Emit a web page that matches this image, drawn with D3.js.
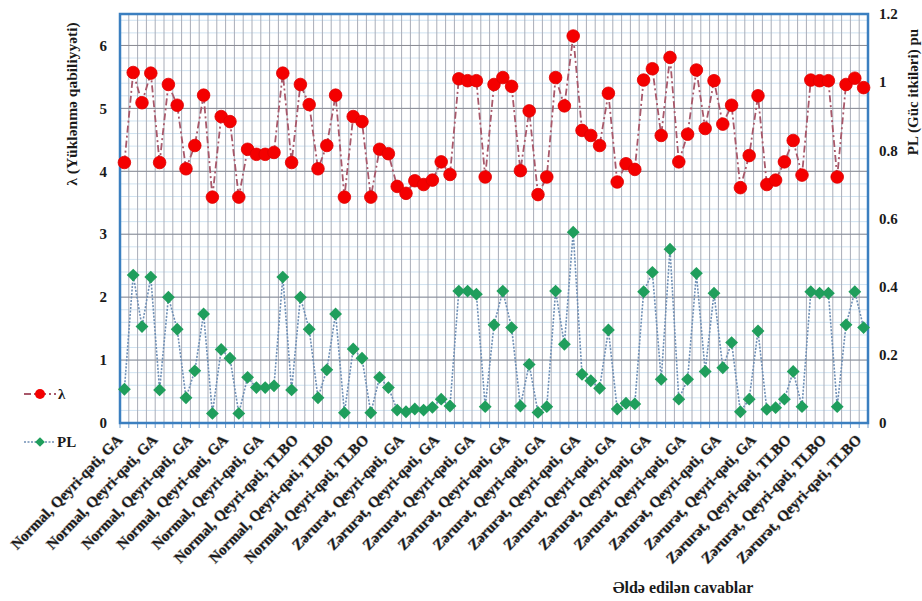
<!DOCTYPE html>
<html>
<head>
<meta charset="utf-8">
<script src="https://cdn.jsdelivr.net/npm/d3@7"></script>
<style>
  body { margin: 0; background: #fff; }
  text { font-family: "Liberation Serif", "Times New Roman", serif; font-weight: bold; fill: #1a1a1a; }
</style>
</head>
<body>
<div id="chart"></div>
<script>
// category groups, 85 answers in order
var groupNames = ['Normal, Qeyri-qəti, GA', 'Normal, Qeyri-qəti, TLBO', 'Zərurət, Qeyri-qəti, GA', 'Zərurət, Qeyri-qəti, TLBO'];
var groupCounts = [20, 12, 41, 12];

// λ (left axis)
var lambdaValues = [
  4.14, 5.57, 5.09, 5.56, 4.14, 5.38, 5.05, 4.04, 4.41, 5.21,
  3.59, 4.87, 4.79, 3.59, 4.35, 4.27, 4.27, 4.30, 5.56, 4.14,
  5.38, 5.06, 4.04, 4.41, 5.21, 3.59, 4.87, 4.79, 3.59, 4.35,
  4.28, 3.76, 3.65, 3.85, 3.79, 3.86, 4.15, 3.95, 5.47, 5.44,
  5.44, 3.91, 5.38, 5.49, 5.35, 4.01, 4.96, 3.63, 3.91, 5.49,
  5.04, 6.15, 4.65, 4.57, 4.41, 5.24, 3.83, 4.12, 4.03, 5.45,
  5.63, 4.57, 5.81, 4.15, 4.59, 5.61, 4.68, 5.44, 4.75, 5.05,
  3.74, 4.25, 5.20, 3.79, 3.86, 4.15, 4.49, 3.94, 5.45, 5.44,
  5.44, 3.91, 5.38, 5.48, 5.33
];

// PL (right axis, pu)
var plValues = [
  0.099, 0.434, 0.283, 0.428, 0.097, 0.369, 0.275, 0.074, 0.153, 0.320,
  0.028, 0.216, 0.190, 0.028, 0.134, 0.104, 0.104, 0.109, 0.428, 0.097,
  0.369, 0.275, 0.074, 0.156, 0.320, 0.030, 0.217, 0.190, 0.030, 0.134,
  0.104, 0.038, 0.033, 0.041, 0.038, 0.046, 0.070, 0.050, 0.387, 0.387,
  0.378, 0.048, 0.288, 0.387, 0.280, 0.050, 0.172, 0.031, 0.048, 0.387,
  0.231, 0.560, 0.143, 0.124, 0.102, 0.273, 0.041, 0.058, 0.056, 0.385,
  0.442, 0.128, 0.510, 0.070, 0.128, 0.439, 0.151, 0.381, 0.162, 0.236,
  0.033, 0.070, 0.270, 0.040, 0.045, 0.070, 0.151, 0.048, 0.385, 0.381,
  0.381, 0.048, 0.288, 0.385, 0.280
];

var leftTicks = [0, 1, 2, 3, 4, 5, 6];
var rightTicks = [0, 0.2, 0.4, 0.6, 0.8, 1, 1.2];

var categories = [];
groupNames.forEach(function(name, g) {
  for (var k = 0; k < groupCounts[g]; k++) categories.push(name);
});
var ids = d3.range(categories.length);

var W = 922, H = 601;
var plot = { left: 120, top: 14, right: 868, bottom: 423 };

var svg = d3.select('#chart').append('svg')
  .attr('width', W).attr('height', H);

var x = d3.scaleBand().domain(ids).range([plot.left, plot.right]);
var yL = d3.scaleLinear().domain([0, 6.5]).range([plot.bottom, plot.top]);
var yR = d3.scaleLinear().domain([0, 1.2]).range([plot.bottom, plot.top]);
var cx = function(i) { return x(i) + x.bandwidth() / 2; };

// gridlines
var grid = svg.append('g');
grid.selectAll('.hmin').data(d3.range(0, 6.5, 0.2))
  .enter().append('line')
  .attr('x1', plot.left).attr('x2', plot.right)
  .attr('y1', function(d) { return yL(d); }).attr('y2', function(d) { return yL(d); })
  .attr('stroke', '#cfe2f1').attr('stroke-width', 1);
grid.selectAll('.v').data(ids.slice(1))
  .enter().append('line')
  .attr('x1', function(i) { return x(i); }).attr('x2', function(i) { return x(i); })
  .attr('y1', plot.top).attr('y2', plot.bottom)
  .attr('stroke', '#a9adb8').attr('stroke-width', 1);
grid.selectAll('.hmaj').data(leftTicks.slice(1))
  .enter().append('line')
  .attr('x1', plot.left).attr('x2', plot.right)
  .attr('y1', function(d) { return yL(d); }).attr('y2', function(d) { return yL(d); })
  .attr('stroke', '#8a8a92').attr('stroke-width', 1);

// bottom ticks
svg.append('g').selectAll('line').data(d3.range(categories.length + 1))
  .enter().append('line')
  .attr('x1', function(i) { return plot.left + i * x.bandwidth(); })
  .attr('x2', function(i) { return plot.left + i * x.bandwidth(); })
  .attr('y1', plot.bottom).attr('y2', plot.bottom + 5)
  .attr('stroke', '#6f9ccc').attr('stroke-width', 1);

// frame
svg.append('rect')
  .attr('x', plot.left).attr('y', plot.top)
  .attr('width', plot.right - plot.left).attr('height', plot.bottom - plot.top)
  .attr('fill', 'none').attr('stroke', '#3b7fc0').attr('stroke-width', 2.5);

// axis tick labels
svg.append('g').selectAll('text').data(leftTicks)
  .enter().append('text')
  .attr('x', 107).attr('y', function(d) { return yL(d); })
  .attr('dy', '0.35em').attr('text-anchor', 'end')
  .style('font-size', '15px')
  .text(function(d) { return d; });
svg.append('g').selectAll('text').data(rightTicks)
  .enter().append('text')
  .attr('x', 879).attr('y', function(d) { return yR(d); })
  .attr('dy', '0.35em').attr('text-anchor', 'start')
  .style('font-size', '15px')
  .text(function(d) { return d; });

// category labels, every 4th
svg.append('g').selectAll('text').data(ids.filter(function(i) { return i % 4 === 0; }))
  .enter().append('text')
  .attr('transform', function(i) { return 'translate(' + (cx(i) - 5) + ',' + 437 + ') rotate(-46)'; })
  .attr('text-anchor', 'end')
  .attr('dy', '0.35em')
  .style('font-size', '15px')
  .style('paint-order', 'stroke')
  .style('stroke', '#bdbdbd').style('stroke-width', '1px')
  .text(function(i) { return categories[i]; });

// axis titles
svg.append('text')
  .attr('transform', 'translate(72,104) rotate(-90)')
  .attr('text-anchor', 'middle').attr('dy', '0.35em')
  .style('font-size', '15.5px')
  .text('λ (Yüklənmə qabiliyyəti)');
svg.append('text')
  .attr('transform', 'translate(913,92) rotate(-90)')
  .attr('text-anchor', 'middle').attr('dy', '0.35em')
  .style('font-size', '15px')
  .text('PL (Güc itkiləri) pu');
svg.append('text')
  .attr('x', 683).attr('y', 587)
  .attr('text-anchor', 'middle').attr('dy', '0.35em')
  .style('font-size', '16px')
  .text('Əldə edilən cavablar');

// series lines
var lamLine = d3.line().x(function(d, i) { return cx(i); }).y(function(d) { return yL(d); });
var plLine = d3.line().x(function(d, i) { return cx(i); }).y(function(d) { return yR(d); });

svg.append('path').datum(plValues)
  .attr('d', plLine).attr('fill', 'none')
  .attr('stroke', '#6f8fb5').attr('stroke-width', 1.6)
  .attr('stroke-dasharray', '2,1.5');
svg.append('path').datum(lambdaValues)
  .attr('d', lamLine).attr('fill', 'none')
  .attr('stroke', '#a8586a').attr('stroke-width', 1.8)
  .attr('stroke-dasharray', '7,3,2,3');

// markers
var diamond = d3.symbol().type(d3.symbolDiamond2).size(105);
svg.append('g').selectAll('path').data(plValues)
  .enter().append('path')
  .attr('d', diamond)
  .attr('transform', function(d, i) { return 'translate(' + cx(i) + ',' + yR(d) + ')'; })
  .attr('fill', '#1f9e5c');
svg.append('g').selectAll('circle').data(lambdaValues)
  .enter().append('circle')
  .attr('cx', function(d, i) { return cx(i); })
  .attr('cy', function(d) { return yL(d); })
  .attr('r', 6.3)
  .attr('fill', '#f40000').attr('stroke', '#e00000').attr('stroke-width', 0.8);

// legend
var legend = svg.append('g');
legend.append('line')
  .attr('x1', 24).attr('x2', 56).attr('y1', 394).attr('y2', 394)
  .attr('stroke', '#a8586a').attr('stroke-width', 1.8).attr('stroke-dasharray', '7,3,2,3');
legend.append('circle').attr('cx', 40).attr('cy', 394).attr('r', 5)
  .attr('fill', '#f40000');
legend.append('text').attr('x', 58).attr('y', 394).attr('dy', '0.35em')
  .style('font-size', '15px').text('λ');
legend.append('line')
  .attr('x1', 24).attr('x2', 54).attr('y1', 442).attr('y2', 442)
  .attr('stroke', '#6f8fb5').attr('stroke-width', 1.6).attr('stroke-dasharray', '2,1.5');
legend.append('path').attr('d', d3.symbol().type(d3.symbolDiamond2).size(60))
  .attr('transform', 'translate(40,442)').attr('fill', '#1f9e5c');
legend.append('text').attr('x', 57).attr('y', 442).attr('dy', '0.35em')
  .style('font-size', '15px').text('PL');
</script>
</body>
</html>
